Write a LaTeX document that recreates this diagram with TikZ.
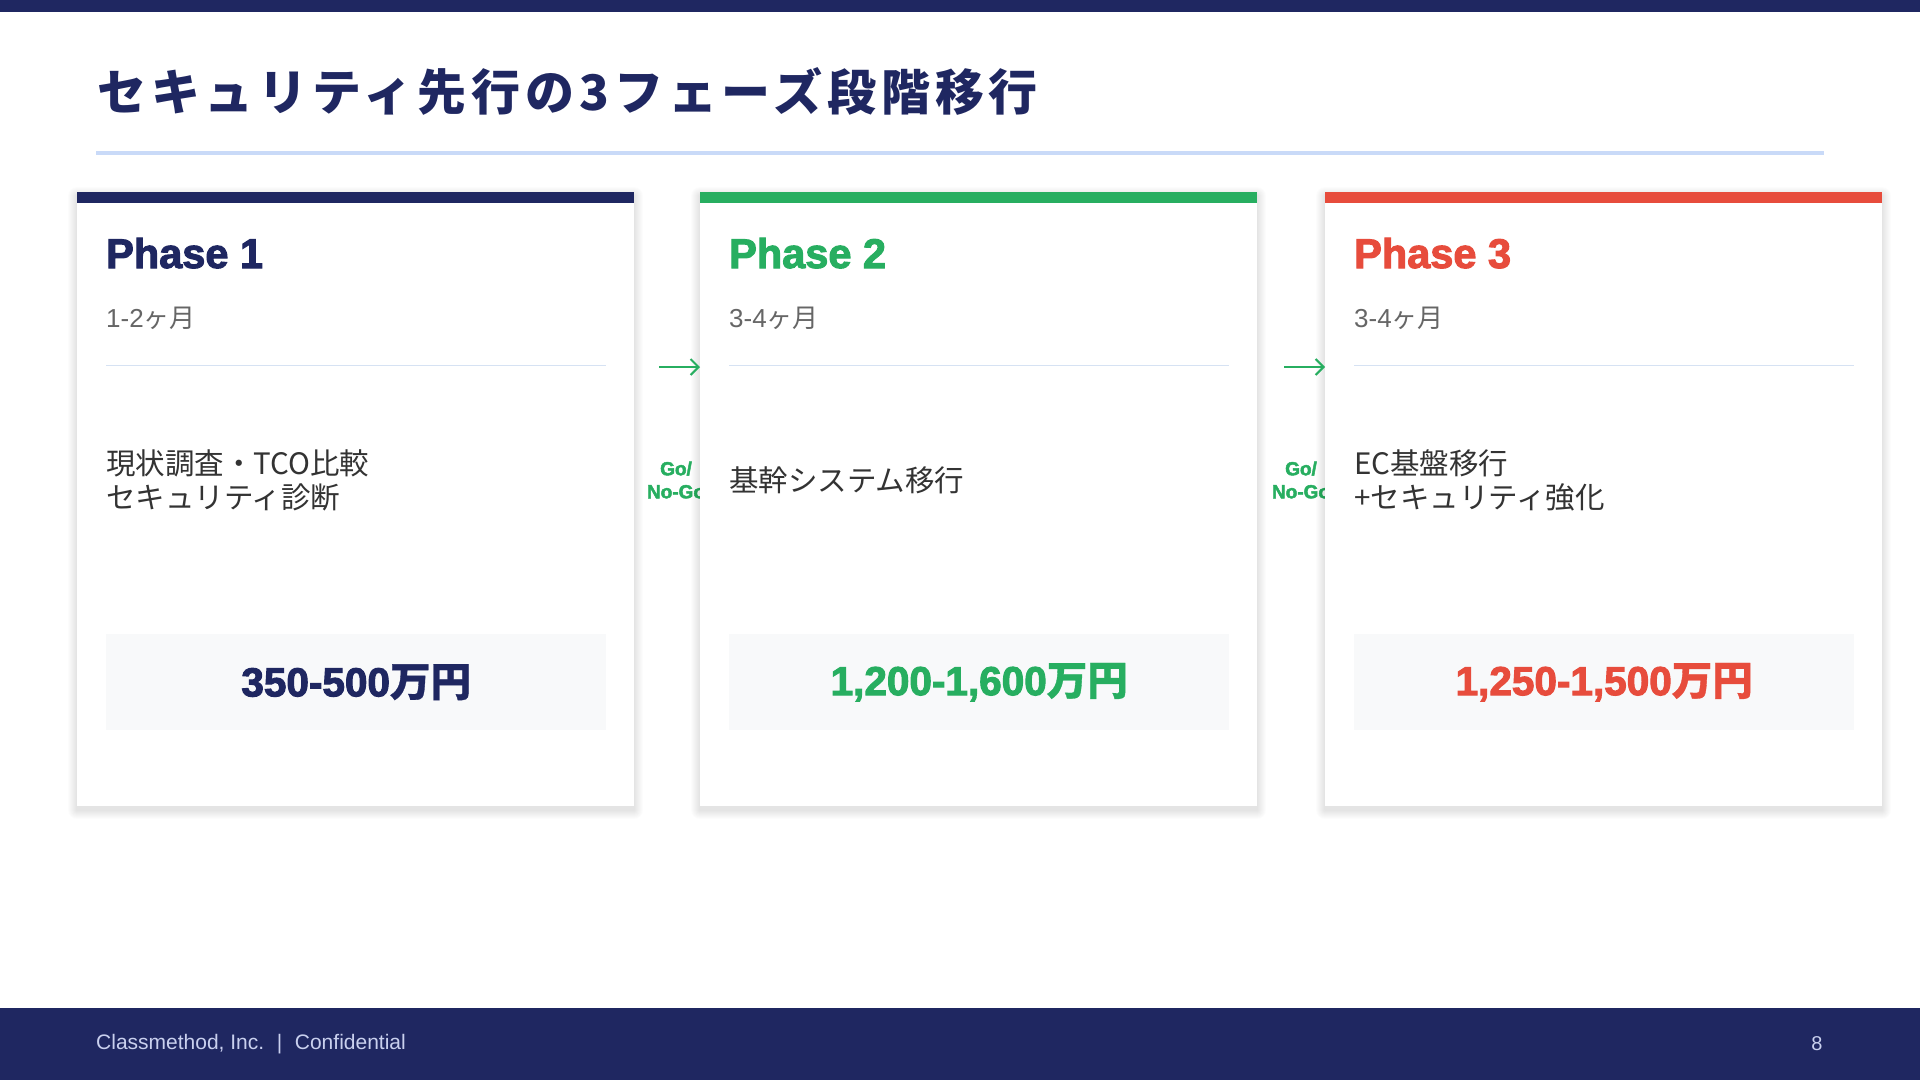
\documentclass[tikz,border=0pt]{standalone}
\usepackage{fontspec}
\setmainfont{Liberation Sans}
\newfontfamily\heavy{Liberation Sans}[BoldFeatures={FakeBold=2.5}]
\newfontfamily\jp{Noto Sans CJK JP}
\newfontfamily\jpheavy{Noto Sans CJK JP}[BoldFeatures={FakeBold=0.8}]
\newfontfamily\jptitle{Noto Sans CJK JP}[LetterSpace=10]
\usetikzlibrary{arrows.meta}
\definecolor{navy}{HTML}{1F2761}
\definecolor{pgreen}{HTML}{27AE60}
\definecolor{pred}{HTML}{E74C3C}
\definecolor{sepblue}{HTML}{C9DAF8}
\definecolor{thinline}{HTML}{D6E2F3}
\definecolor{costbg}{HTML}{F8F9FA}
\definecolor{durgray}{HTML}{666666}
\definecolor{desctext}{HTML}{333333}
\definecolor{foottext}{HTML}{C9D0EE}
\tikzset{
  cardbox/.style={fill=white, minimum width=557, minimum height=614, anchor=north west, inner sep=0},
  phasetitle/.style={anchor=base west, font=\heavy\bfseries\fontsize{41.5}{48}\selectfont, inner sep=0},
  duration/.style={anchor=base west, text=durgray, font=\fontsize{26}{30}\selectfont, inner sep=0},
  desc/.style={anchor=west, align=left, text=desctext, font=\jp\fontsize{29.5}{34}\selectfont, inner sep=0},
  costbox/.style={fill=costbg, minimum width=500, minimum height=96, anchor=north west, inner sep=0},
  costtext/.style={font=\heavy\bfseries\fontsize{40.5}{48}\selectfont, inner sep=0},
  flowarrow/.style={pgreen, line width=2, -{Straight Barb[length=8,width=16,line width=2]}},
  golabel/.style={text=pgreen, align=center, font=\heavy\bfseries\fontsize{19}{23}\selectfont, inner sep=0},
}
\newcommand\cardshadow[1]{%
  \foreach \s in {1,...,9}{%
    \fill[black, opacity=0.013, rounded corners=\s] (#1-\s, 192-\s+4) rectangle (#1+557+\s, 806+\s+4);}}
\newcommand\phasecard[7]{% 1 left x, 2 name, 3 colour, 4 title, 5 duration, 6 desc, 7 cost
  \cardshadow{#1}
  \node[cardbox] (#2) at (#1,192) {};
  \fill[#3] (#2.north west) rectangle ([yshift=-11]#2.north east);
  \node[phasetitle, text=#3] (#2t) at (#1+29,268) {#4};
  \node[duration] (#2d) at (#1+29,327) {#5};
  \draw[thinline, line width=1] (#1+29,365) -- (#1+529,365);
  \node[desc] (#2x) at (#1+29,480) {#6};
  \node[costbox] (#2b) at (#1+29,634) {};
  \node[costtext, text=#3] (#2c) at (#2b.center) {#7};
}
\begin{document}
\begin{tikzpicture}[x=1pt,y=-1pt]
\useasboundingbox (0,0) rectangle (1920,1080);
\fill[white] (0,0) rectangle (1920,1080);
\fill[navy] (0,0) rectangle (1920,12);
\node[anchor=base west, inner sep=0, text=navy, font=\jptitle\bfseries\fontsize{49}{58}\selectfont] (title) at (97,110) {セキュリティ先行の3フェーズ段階移行};
\fill[sepblue] (96,151) rectangle (1824,155);

\phasecard{77}{c1}{navy}{Phase 1}{1-2{\jp ヶ月}}{{\jp 現状調査・}TCO{\jp 比較}\\セキュリティ診断}{350-500{\jpheavy\bfseries 万円}}

\coordinate (a1s) at (659,367);
\node[golabel] (g1) at (676,480) {Go/\\No-Go};
\phasecard{700}{c2}{pgreen}{Phase 2}{3-4{\jp ヶ月}}{基幹システム移行}{1,200-1,600{\jpheavy\bfseries 万円}}
\draw[flowarrow] (a1s) -- (a1s -| c2.west);

\coordinate (a2s) at (1284,367);
\node[golabel] (g2) at (1301,480) {Go/\\No-Go};
\phasecard{1325}{c3}{pred}{Phase 3}{3-4{\jp ヶ月}}{EC{\jp 基盤移行}\\+{\jp セキュリティ強化}}{1,250-1,500{\jpheavy\bfseries 万円}}
\draw[flowarrow] (a2s) -- (a2s -| c3.west);

\fill[navy] (0,1008) rectangle (1920,1080);
\node[anchor=west, inner sep=0, text=foottext, font=\fontsize{21}{24}\selectfont] (foot) at (96,1044) {Classmethod, Inc.\hspace{0.6em}|\hspace{0.6em}Confidential};
\node[inner sep=0, text=foottext, font=\fontsize{20}{24}\selectfont] (page) at (1817,1044) {8};
\end{tikzpicture}
\end{document}
